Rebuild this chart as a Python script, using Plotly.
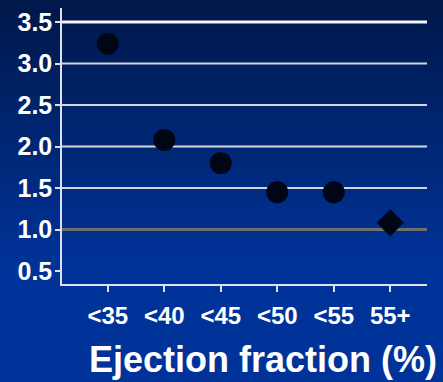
import plotly.graph_objects as go

categories = ["<35", "<40", "<45", "<50", "<55", "55+"]
values = [3.24, 2.08, 1.80, 1.45, 1.45, 1.08]
symbols = ["circle", "circle", "circle", "circle", "circle", "diamond"]
marker_sizes = [22, 22, 22, 22, 22, 21]
y_ticks = [0.5, 1.0, 1.5, 2.0, 2.5, 3.0, 3.5]
y_tick_text = ["0.5", "1.0", "1.5", "2.0", "2.5", "3.0", "3.5"]
grid_values = [1.0, 1.5, 2.0, 2.5, 3.0, 3.5]
reference_value = 1.0
x_title = "Ejection fraction (%)"

W, H = 443, 382
L, R, T, B = 62, 16, 8, 98
pw, ph = W - L - R, H - T - B

FONT = "Arial, Liberation Sans, sans-serif"

fig = go.Figure()
fig.add_trace(go.Scatter(
    x=categories, y=values, mode="markers",
    opacity=1,
    marker=dict(symbol=symbols, size=marker_sizes, color="#010616",
                opacity=1, line=dict(width=0)),
    showlegend=False, hoverinfo="skip",
))

shapes = []
# background gradient bands (paper coords covering full page)
top = (0, 24, 74)
bot = (0, 51, 153)
n = 60
x0p = -L / pw
x1p = 1 + R / pw
ytop = 1 + T / ph
grad_end_px = 270
for i in range(n):
    py0 = H * i / n
    py1 = H * (i + 1) / n + 1
    t = min(1.0, ((py0 + py1) / 2) / grad_end_px)
    c = tuple(int(round(top[k] + (bot[k] - top[k]) * t)) for k in range(3))
    shapes.append(dict(
        type="rect", xref="paper", yref="paper", layer="below",
        x0=x0p, x1=x1p,
        y0=ytop - py1 / ph, y1=ytop - py0 / ph,
        fillcolor="rgb(%d,%d,%d)" % c, line=dict(width=0),
    ))
# gridlines
for g in grid_values:
    if g == reference_value:
        col, w = "#6e6e70", 3
    elif g == max(grid_values):
        col, w = "#f4f4f8", 3
    else:
        col, w = "#d4d6de", 2
    shapes.append(dict(type="line", xref="paper", yref="y", x0=0, x1=1,
                       y0=g, y1=g, line=dict(color=col, width=w), layer="below"))

fig.update_layout(
    width=W, height=H,
    margin=dict(l=L, r=R, t=T, b=B, pad=0),
    paper_bgcolor="#002a80",
    plot_bgcolor="rgba(0,0,0,0)",
    shapes=shapes,
    font=dict(family=FONT, color="white"),
    xaxis=dict(
        type="category", range=[-0.81, 5.65],
        showgrid=False, zeroline=False,
        showline=True, linecolor="#e0e0e8", linewidth=1.5,
        ticks="outside", ticklen=6, tickcolor="#e0e0e8", tickwidth=1.5,
        tickfont=dict(family=FONT, size=24, color="white", weight="bold"),
        ticklabelstandoff=3,
    ),
    yaxis=dict(
        range=[0.343, 3.67],
        tickvals=y_ticks, ticktext=y_tick_text,
        showgrid=False,
        zeroline=False,
        showline=True, linecolor="#e0e0e8", linewidth=1.5,
        ticks="outside", ticklen=5, tickcolor="#e0e0e8", tickwidth=1.5,
        tickfont=dict(family=FONT, size=25, color="white", weight="bold"),
        ticklabelstandoff=-2,
    ),
    annotations=[dict(
        text=x_title, xref="paper", yref="paper",
        x=(262.5 - L) / pw, y=-(360 - (H - B)) / ph,
        xanchor="center", yanchor="middle", showarrow=False,
        font=dict(family=FONT, size=36, color="white", weight="bold"),
    )],
)

fig.write_html("out.html")
